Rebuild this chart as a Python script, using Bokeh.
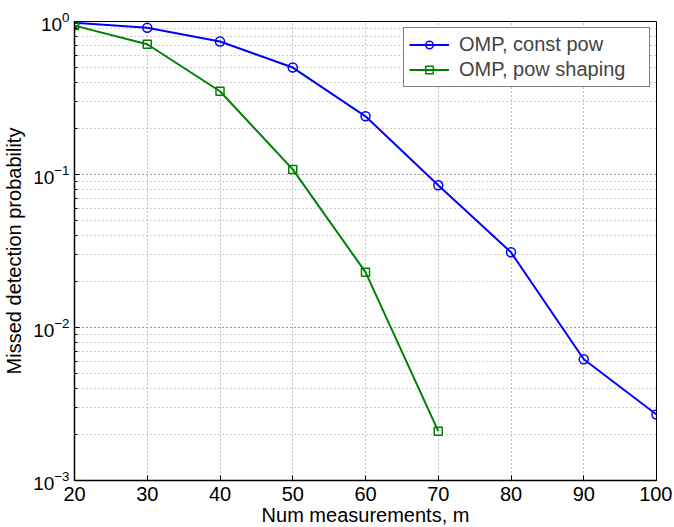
from bokeh.plotting import figure
from bokeh.models import FixedTicker, Legend, LegendItem
from bokeh.embed import file_html
from bokeh.resources import INLINE

x_ticks = [20, 30, 40, 50, 60, 70, 80, 90, 100]
x_blue = [20, 30, 40, 50, 60, 70, 80, 90, 100]
y_blue = [0.98, 0.91, 0.74, 0.50, 0.24, 0.085, 0.031, 0.0062, 0.0027]
x_green = [20, 30, 40, 50, 60, 70]
y_green = [0.94, 0.71, 0.35, 0.108, 0.023, 0.0021]
label_blue = "OMP, const pow"
label_green = "OMP, pow shaping"

FONT = "Liberation Sans"
FS = "20px"

p = figure(frame_width=582, frame_height=459, x_range=(20, 100), y_range=(1e-3, 1),
           y_axis_type="log", output_backend="svg", toolbar_location=None,
           min_border_left=74, min_border_top=21, min_border_right=16, min_border_bottom=40)

p.outline_line_color = "black"
p.outline_line_width = 1
p.xaxis.ticker = FixedTicker(ticks=x_ticks)

for ax in [p.xaxis[0], p.yaxis[0]]:
    ax.axis_line_color = "black"
    ax.axis_line_width = 1.5
    ax.major_tick_in = 5
    ax.major_tick_out = 0
    ax.minor_tick_in = 3
    ax.minor_tick_out = 0
    ax.major_label_text_font = FONT
    ax.major_label_text_font_size = FS
    ax.major_label_text_color = "black"
    ax.axis_label_text_font = FONT
    ax.axis_label_text_font_size = FS
    ax.axis_label_text_font_style = "normal"
    ax.axis_label_text_color = "black"

p.yaxis.major_label_text_font_size = "19px"
p.xaxis.axis_label = "Num measurements, m"
p.yaxis.axis_label = "Missed detection probability"
p.xaxis.major_label_standoff = 6
p.xaxis.axis_label_standoff = 0
p.yaxis.major_label_standoff = 5
p.yaxis.axis_label_standoff = 5

for g in [p.xgrid[0], p.ygrid[0]]:
    g.grid_line_color = "#808080"
    g.grid_line_dash = "1 3"
    g.grid_line_width = 1
p.ygrid.minor_grid_line_color = "#a0a0a0"
p.ygrid.minor_grid_line_dash = "1 3"

lb = p.line(x_blue, y_blue, line_color="#0000ff", line_width=2)
cb = p.scatter(x_blue, y_blue, marker="circle", size=9, line_color="#0000ff", fill_color=None, line_width=1.5)
lg = p.line(x_green, y_green, line_color="#008000", line_width=2)
sg = p.scatter(x_green, y_green, marker="square", size=8, line_color="#008000", fill_color=None, line_width=1.5)

legend = Legend(items=[LegendItem(label=label_blue, renderers=[lb, cb]),
                       LegendItem(label=label_green, renderers=[lg, sg])],
                location="top_right")
legend.label_text_font = FONT
legend.label_text_font_size = FS
legend.border_line_color = "black"
legend.border_line_width = 1
legend.padding = 5
legend.spacing = 2
legend.margin = 6
legend.glyph_width = 40
legend.label_standoff = 10
legend.label_height = 19
legend.glyph_height = 19
legend.label_width = 185
p.add_layout(legend)

open("out.html", "w").write(file_html(p, INLINE))
